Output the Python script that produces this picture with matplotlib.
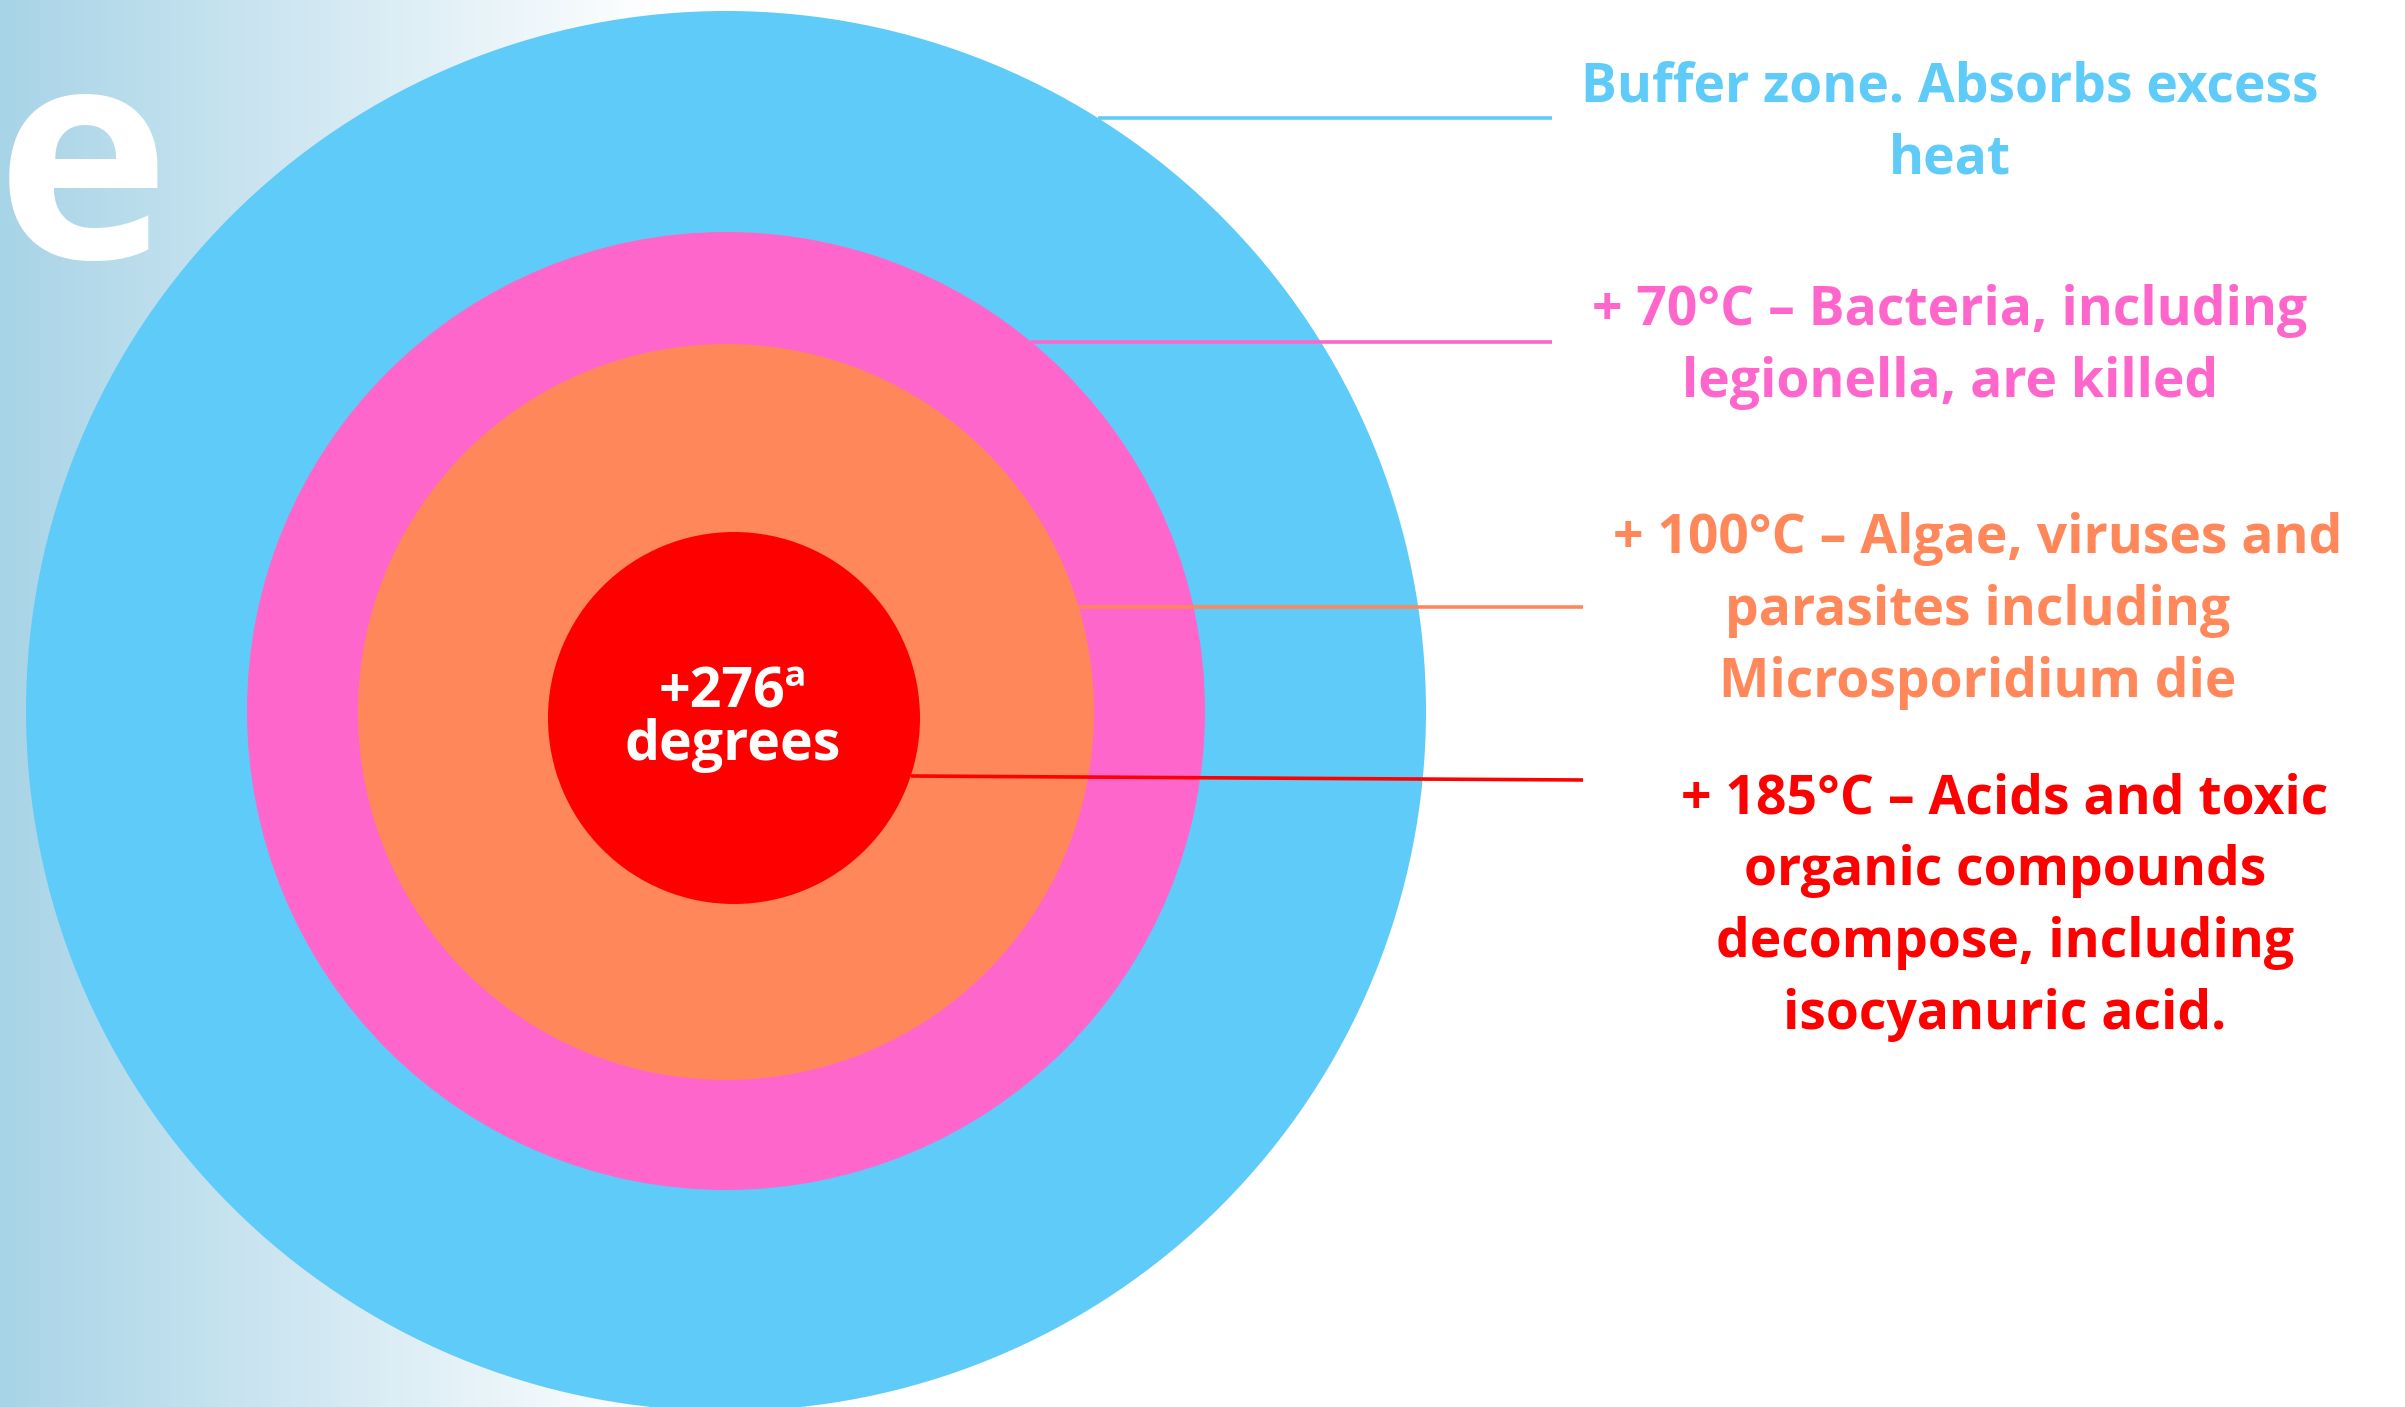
import numpy as np
import matplotlib.pyplot as plt
from matplotlib.patches import Circle
from matplotlib.colors import LinearSegmentedColormap

# zones, from the outer ring to the core
zones = ["Buffer zone", "+ 70°C", "+ 100°C", "+ 185°C"]
descriptions = [
    ["Buffer zone. Absorbs excess", "heat"],
    ["+ 70°C – Bacteria, including", "legionella, are killed"],
    ["+ 100°C – Algae, viruses and", "parasites including", "Microsporidium die"],
    ["+ 185°C – Acids and toxic", "organic compounds", "decompose, including", "isocyanuric acid."],
]
core_label = ["+276ª", "degrees"]
zone_colors = ["#5fcbf9", "#ff66cc", "#ff875a", "#ff0000"]

# layout in pixels (y grows downward)
W, H = 2405, 1407
centers = [(726, 711), (726, 711), (726, 712), (734, 718)]
radii = [700, 479, 368, 186]
leader_y = [(118, 118), (342, 342), (607, 607), (776, 780)]
leader_end = [1552, 1552, 1583, 1583]
text_x = [1950, 1950, 1978, 2005]
first_baseline = [102, 325, 553, 813]
line_step = 72

FONT = "Open Sans"

fig = plt.figure(figsize=(W / 100, H / 100), dpi=100)
ax = fig.add_axes([0, 0, 1, 1])
ax.set_xlim(0, W)
ax.set_ylim(H, 0)
ax.set_aspect("equal")
ax.axis("off")

# background fade on the left
fade = LinearSegmentedColormap.from_list("fade", ["#a8d4e7", "#ffffff"])
ax.imshow(np.linspace(0, 1, 256)[None, :], cmap=fade, aspect="auto",
          extent=[0, 660, H, 0], zorder=0)

# big title fragment behind the rings
ax.text(170, 258, "e", color="white", fontsize=212, fontweight="bold",
        family=FONT, ha="right", va="baseline", zorder=1)

# rings
for (cx, cy), r, c in zip(centers, radii, zone_colors):
    ax.add_patch(Circle((cx, cy), r, facecolor=c, edgecolor="none", zorder=2))

# leader lines, starting at each ring's edge
for (cx, cy), r, (y0, y1), x1, c in zip(centers, radii, leader_y, leader_end, zone_colors):
    x0 = cx + np.sqrt(r ** 2 - (y0 - cy) ** 2)
    ax.plot([x0, x1], [y0, y1], color=c, lw=2.6, solid_capstyle="butt", zorder=3)

# descriptions
for lines, x, y0, c in zip(descriptions, text_x, first_baseline, zone_colors):
    for i, line in enumerate(lines):
        ax.text(x, y0 + i * line_step, line, color=c, fontsize=38.5,
                fontweight="bold", family=FONT, ha="center", va="baseline")

# core label
for i, line in enumerate(core_label):
    ax.text(733, 707 + i * 53, line, color="white", fontsize=40,
            fontweight="bold", family=FONT, ha="center", va="baseline", zorder=4)

fig.savefig("out.png", dpi=100, facecolor="white")
